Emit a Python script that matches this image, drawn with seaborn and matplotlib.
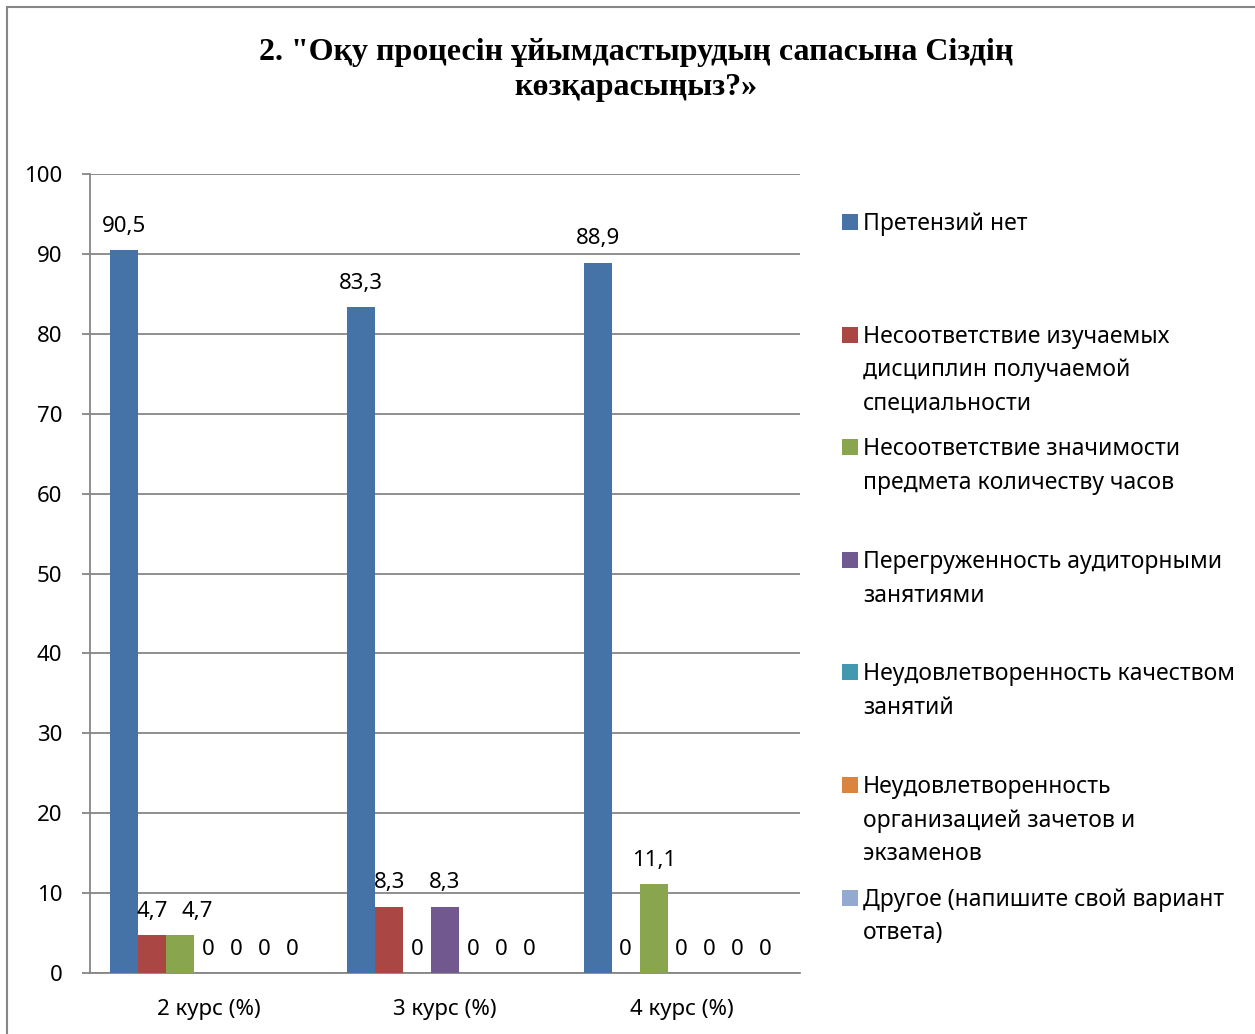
import matplotlib
matplotlib.use("Agg")
import matplotlib.pyplot as plt
import matplotlib.patches as mpatches
import numpy as np
import pandas as pd
import seaborn as sns

sns.set_theme(style="white")
plt.rcParams["font.family"] = ["Noto Sans", "DejaVu Sans"]
plt.rcParams["text.color"] = "black"
plt.rcParams["xtick.color"] = "black"
plt.rcParams["ytick.color"] = "black"

# данные
courses = ["2 курс (%)", "3 курс (%)", "4 курс (%)"]
series_names = [
    "Претензий нет",
    "Несоответствие изучаемых\nдисциплин получаемой\nспециальности",
    "Несоответствие значимости\nпредмета количеству часов",
    "Перегруженность аудиторными\nзанятиями",
    "Неудовлетворенность качеством\nзанятий",
    "Неудовлетворенность\nорганизацией зачетов и\nэкзаменов",
    "Другое (напишите свой вариант\nответа)",
]
no_claims = [90.5, 83.3, 88.9]
mismatch_disc = [4.7, 8.3, 0]
mismatch_hours = [4.7, 0, 11.1]
overload = [0, 8.3, 0]
quality = [0, 0, 0]
exams = [0, 0, 0]
other = [0, 0, 0]
colors = ["#4572A7", "#AA4643", "#89A54E", "#71588F", "#4198AF", "#DB843D", "#93A9CF"]
title = '2. "Оқу процесін ұйымдастырудың сапасына Сіздің\nкөзқарасыңыз?»'

all_vals = [no_claims, mismatch_disc, mismatch_hours, overload, quality, exams, other]
rows = []
for name, vals in zip(series_names, all_vals):
    for c, v in zip(courses, vals):
        rows.append({"course": c, "series": name, "value": v})
df = pd.DataFrame(rows)

W, H = 1255, 1034
fig = plt.figure(figsize=(W / 100, H / 100), dpi=100)
ax = fig.add_axes([90 / W, 61 / H, 710 / W, 799 / H])

sns.barplot(data=df, x="course", y="value", hue="series", hue_order=series_names,
            order=courses, palette=colors, saturation=1, width=0.827, legend=False,
            linewidth=0, ax=ax, zorder=3)

label_sets = []
for cont, vals in zip(ax.containers, all_vals):
    labels = [f"{v:g}".replace(".", ",") for v in vals]
    label_sets.append(ax.bar_label(cont, labels=labels, padding=9.5, fontsize=16, color="black"))

# соседние подписи 4,7 / 4,7 разнесены, как в исходнике
for k in range(len(courses)):
    for s in range(1, len(all_vals)):
        if all_vals[s][k] > 0 and all_vals[s - 1][k] > 0 and abs(all_vals[s][k] - all_vals[s - 1][k]) < 2:
            label_sets[s][k].xyann = (12, 9.5)

ax.set_ylim(0, 100)
ax.set_yticks(range(0, 101, 10))
ax.set_xlim(-0.5, 2.5)
ax.set_xlabel("")
ax.set_ylabel("")
ax.grid(axis="y", color="#868686", linewidth=1.3, zorder=0)
for s in ["top", "right"]:
    ax.spines[s].set_visible(False)
for s in ["left", "bottom"]:
    ax.spines[s].set_color("#868686")
    ax.spines[s].set_linewidth(1.3)
ax.set_xticks([-0.5, 0.5, 1.5, 2.5], minor=True)
ax.tick_params(axis="x", which="minor", length=8, width=1.3, color="#868686", direction="out")
ax.tick_params(axis="x", which="major", length=0, pad=19, labelsize=16)
ax.tick_params(axis="y", length=6, width=1.3, color="#868686", direction="out",
               labelsize=16, pad=14, left=True)

fig.text(636 / W, 1 - 70 / H, title, ha="center", va="center", fontsize=23,
         fontweight="bold", family=["Liberation Serif", "DejaVu Serif"], linespacing=1.3)

# легенда
step = 112.6
for i, (name, col) in enumerate(zip(series_names, colors)):
    yc = 222 + i * step
    fig.patches.append(mpatches.Rectangle((842 / W, 1 - (yc + 8) / H), 16 / W, 16 / H,
                                          transform=fig.transFigure, facecolor=col,
                                          edgecolor="none"))
    fig.text(863 / W, 1 - (yc - 10) / H, name, ha="left", va="top", fontsize=16.5,
             linespacing=1.54)

fig.patches.append(mpatches.Rectangle((7 / W, -0.1), 1.2, 1 - 7 / H + 0.1,
                                      transform=fig.transFigure, facecolor="none",
                                      edgecolor="#868686", linewidth=1.5))

fig.savefig("out.png", dpi=100, facecolor="white")
